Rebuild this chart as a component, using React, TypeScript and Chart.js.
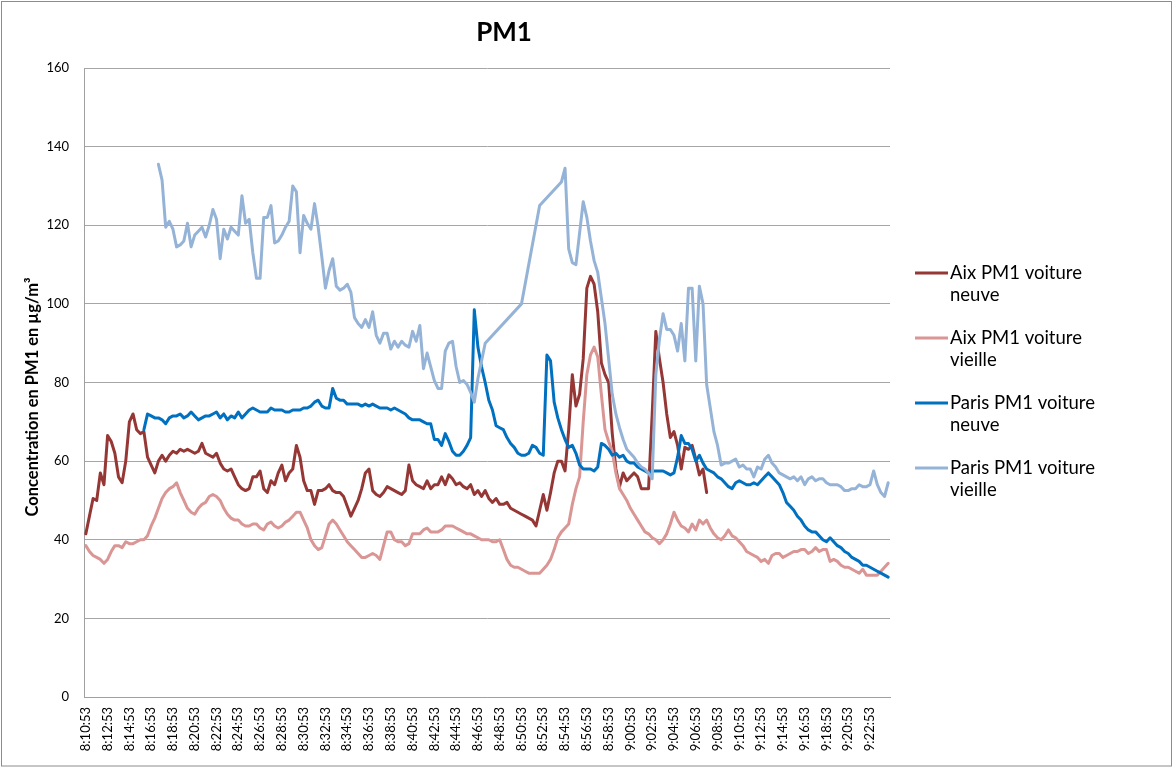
import { useEffect, useRef } from 'react';
import { Chart, registerables } from 'chart.js';

Chart.register(...registerables);

// ---------- data ----------
const START_TIME = '8:10:53';
const STEP_SECONDS = 20;
const CATEGORY_COUNT = 222;
const LABEL_EVERY = 6;

const chartTitle = 'PM1';
const yAxisTitle = 'Concentration en PM1 en µg/m³';
const yMin = 0;
const yMax = 160;
const yStep = 20;

const seriesLabels = [
  'Aix PM1 voiture neuve',
  'Aix PM1 voiture vieille',
  'Paris PM1 voiture neuve',
  'Paris PM1 voiture vieille',
];
const seriesColors = ['#953735', '#D99694', '#0070C0', '#95B3D7'];

const aixNeuveStart = 0;
const aixNeuve = [
  41.5, 46, 50.5, 50, 57, 54, 66.5, 65, 62, 56,
  54.5, 60, 70, 72, 68, 67, 67.5, 61, 59, 57,
  60, 61.5, 60, 61.5, 62.5, 62, 63, 62.5, 63, 62.5,
  62, 62.5, 64.5, 62, 61.5, 61, 62, 59.5, 58, 57.5,
  58, 56, 54, 53, 52.5, 53, 56, 56, 57.5, 53,
  52, 55, 54, 57, 59, 55, 57, 58, 64, 61,
  55, 52.5, 52.5, 49, 52.5, 52.5, 53, 54, 52.5,
  52, 52, 51, 48.5, 46, 48, 50, 53, 57, 58,
  52.5, 51.5, 51, 52, 53.5, 53, 52.5, 52, 51.5, 52.5,
  59, 55, 54, 53.5, 53, 55, 53, 54, 54, 56,
  54, 56.5, 55.5, 54, 54.5, 53.5, 53, 54, 51.5, 52.5,
  51, 52.5, 50.5, 49.5, 50.5, 49, 49, 49.5, 48, 47.5,
  47, 46.5, 46, 45.5, 45, 43.5, 47.5, 51.5, 47.5, 52,
  57, 60, 60, 57.5, 68, 82, 74, 77, 86, 104,
  107, 105, 98, 85, 82, 80, 67, 58, 53.5, 57,
  55, 56, 57, 56, 53, 53, 53, 72, 93, 86,
  80, 72, 66, 67.5, 64, 58, 63.5, 63, 64, 60.5,
  56.5, 58, 52,
];

const aixVieilleStart = 0;
const aixVieille = [
  38.5, 37, 36, 35.5, 35, 34, 35, 37, 38.5, 38.5,
  38, 39.5, 39, 39, 39.5, 40, 40, 41, 43.5, 45.5,
  48, 50.5, 52, 53, 53.5, 54.5, 52, 50, 48, 47,
  46.5, 48, 49, 49.5, 51, 51.5, 51, 50, 48, 46.5,
  45.5, 45, 45, 44, 43.5, 43.5, 44, 44, 43, 42.5,
  44, 44.5, 43.5, 43, 43.5, 44.5, 45, 46, 47, 47,
  45, 43, 40, 38.5, 37.5, 38, 41, 44, 45,
  44, 42.5, 41, 39.5, 38.5, 37.5, 36.5, 35.5, 35.5, 36,
  36.5, 36, 35, 38.5, 42, 42, 40, 39.5, 39.5, 38.5,
  39, 41.5, 41.5, 41.5, 42.5, 43, 42, 42, 42, 42.5,
  43.5, 43.5, 43.5, 43, 42.5, 42, 41.5, 41.5, 41, 40.5,
  40, 40, 40, 39.5, 39.5, 40, 37.5, 35, 33.5, 33,
  33, 32.5, 32, 31.5, 31.5, 31.5, 31.5, 32.5, 33.5, 35,
  37.5, 40.5, 42, 43, 44, 49, 53, 56, 70, 82,
  87, 89, 86.5, 77, 68, 65, 62.5, 57, 53, 51.5,
  50, 48, 46.5, 45, 43.5, 42, 41.5, 40.5, 40, 39,
  40, 41.5, 44, 47, 45, 43.5, 43, 42, 44, 42.5,
  45, 44, 45, 43, 41.5, 40.5, 40, 41, 42.5, 41,
  40.5, 39.5, 38.5, 37, 36.5, 36, 35.5, 34.5, 35,
  34, 36, 36.5, 36.5, 35.5, 36, 36.5, 37, 37, 37.5,
  37.5, 36.5, 37, 38, 37, 37.5, 37.5, 34.5, 35, 34.5,
  33.5, 33, 33, 32.5, 32, 31.5, 32.5, 31, 31, 31,
  31, 32, 33, 34,
];

const parisNeuveStart = 16;
const parisNeuve = [
  68, 72, 71.5, 71,
  71, 70.5, 69.5, 71, 71.5, 71.5, 72, 71, 71.5, 72.5,
  71.5, 70.5, 71, 71.5, 71.5, 72, 72.5, 71, 72, 70.5,
  71.5, 71, 72.5, 71, 72, 73, 73.5, 73, 72.5, 72.5,
  72.5, 73.5, 73, 73, 73, 72.5, 72.5, 73, 73, 73,
  73.5, 73.5, 74, 75, 75.5, 74, 73.5, 73.5, 78.5,
  76, 75.5, 75.5, 74.5, 74.5, 74.5, 74.5, 74, 74.5, 74,
  74.5, 74, 73.5, 73.5, 73.5, 73, 73.5, 73, 72.5, 72,
  71, 70.5, 70.5, 70.5, 70, 69.5, 69.5, 65.5, 65.5, 64,
  67, 65, 62.5, 61.5, 61.5, 62.5, 64, 66, 98.5, 89,
  84, 80, 75.5, 73, 69, 68.5, 68, 66, 64.5, 63.5,
  62, 61.5, 61.5, 62, 64, 63.5, 62, 61.5, 87, 85.5,
  75, 71, 68, 65.5, 63.5, 64, 62, 59, 58, 58,
  58, 57.5, 58.5, 64.5, 64, 63, 61.5, 62, 61, 61.5,
  60, 59.5, 59.5, 58.5, 58, 57.5, 57, 57.5, 57.5, 57.5,
  57.5, 57, 56.5, 57, 61, 66.5, 64.5, 64.5, 63, 60,
  61.5, 59.5, 58, 57.5, 57, 56, 55.5, 54.5, 53.5, 53,
  54.5, 55, 54.5, 54, 54, 54.5, 54, 55, 56,
  57, 56, 55, 54, 52, 49.5, 48.5, 47.5, 46, 45,
  43.5, 42.5, 42, 42, 41, 40, 39.5, 40.5, 39.5, 38.5,
  38, 37, 36.5, 35.5, 35, 34.5, 33.5, 33.5, 33, 32.5,
  32, 31.5, 31, 30.5,
];

const parisVieilleStart = 20;
const parisVieille = [
  135.5, 131.5, 119.5, 121, 119, 114.5, 115, 116, 120.5, 114.5,
  117.5, 118.5, 119.5, 117, 120, 124, 121.5, 111.5, 119, 116.5,
  119.5, 118.5, 117.5, 127.5, 120.5, 121.5, 113, 106.5, 106.5, 122,
  122, 125, 115.5, 116, 117.5, 119.5, 121, 130, 128.5, 113,
  122.5, 120.5, 119, 125.5, 119.5, 112, 104, 108.5, 111.5,
  104.5, 103.5, 104, 105, 103, 96.5, 95, 94, 96, 94,
  98, 92, 90, 92.5, 92.5, 88.5, 90.5, 89, 90.5, 89.5,
  89, 93, 90.5, 94.5, 83.5, 87.5, 84, 80.5, 78.5, 78.5,
  88, 90, 90.5, 84, 80, 80.5, 79.5, 77.5, 75, 81,
  85.5, 90, null, null, null, null, null, null, null, null,
  null, 100, null, null, null, null, 125, null, null, null,
  null, null, 131, 134.5, 114, 110.5, 110, 118, 126, 122,
  116, 111, 108, 101.5, 95, 86, 77, 72, 68.5, 65.5,
  63, 62, 61, 59.5, 58.5, 58, 57, 55.5, 82, 91,
  97.5, 93.5, 93.5, 92, 88, 95, 85.5, 104, 104, 85.5,
  104.5, 100, 79.5, 73.5, 67.5, 64, 59, 59.5, 59.5, 60,
  60.5, 58.5, 59, 58, 58, 56, 58.5, 58, 60.5,
  61.5, 59.5, 58.5, 57, 56.5, 56, 55.5, 56, 55, 56,
  54, 55.5, 56, 55, 55.5, 55.5, 54.5, 54, 54, 54,
  53.5, 52.5, 52.5, 53, 53, 54, 53.5, 53.5, 54, 57.5,
  54, 52, 51, 54.5,
];

// ---------- helpers ----------
function timeLabel(i: number): string {
  const [h, m, s] = START_TIME.split(':').map(Number);
  const t = h * 3600 + m * 60 + s + i * STEP_SECONDS;
  const hh = Math.floor(t / 3600);
  const mm = Math.floor((t % 3600) / 60);
  const ss = t % 60;
  return `${hh}:${String(mm).padStart(2, '0')}:${String(ss).padStart(2, '0')}`;
}

const categories: string[] = Array.from({ length: CATEGORY_COUNT }, (_, i) => timeLabel(i));

function place(start: number, values: (number | null)[]): (number | null)[] {
  const out: (number | null)[] = new Array(CATEGORY_COUNT).fill(null);
  values.forEach((v, i) => {
    if (start + i < CATEGORY_COUNT) out[start + i] = v;
  });
  return out;
}

const FONT = 'Lato, "Open Sans", sans-serif';

function wrapText(ctx: CanvasRenderingContext2D, text: string, maxWidth: number): string[] {
  const words = text.split(' ');
  const lines: string[] = [];
  let cur = '';
  for (const w of words) {
    const test = cur ? cur + ' ' + w : w;
    if (cur && ctx.measureText(test).width > maxWidth) {
      lines.push(cur);
      cur = w;
    } else {
      cur = test;
    }
  }
  if (cur) lines.push(cur);
  return lines;
}

const framePlugin = {
  id: 'frame',
  beforeDraw(chart: any) {
    const ctx = chart.ctx;
    ctx.save();
    ctx.fillStyle = '#ffffff';
    ctx.fillRect(0, 0, chart.width, chart.height);
    ctx.restore();
  },
  afterDraw(chart: any) {
    const ctx = chart.ctx;
    ctx.save();
    ctx.strokeStyle = '#8c8c8c';
    ctx.lineWidth = 1;
    ctx.strokeRect(1.5, 1.5, chart.width - 4, chart.height - 3.5);
    // chart title
    ctx.fillStyle = '#000';
    ctx.font = `bold 26px ${FONT}`;
    ctx.textAlign = 'center';
    ctx.textBaseline = 'alphabetic';
    ctx.fillText(chartTitle, 504, 41);
    // y axis title
    ctx.save();
    ctx.translate(38, 397);
    ctx.rotate(-Math.PI / 2);
    ctx.font = `bold 16.5px ${FONT}`;
    ctx.textAlign = 'center';
    ctx.textBaseline = 'alphabetic';
    ctx.fillText(yAxisTitle, 0, 0);
    ctx.restore();
    ctx.restore();
  },
};

const legendPlugin = {
  id: 'sideLegend',
  afterDraw(chart: any) {
    const ctx = chart.ctx;
    ctx.save();
    ctx.font = `18.5px ${FONT}`;
    ctx.textBaseline = 'middle';
    ctx.textAlign = 'left';
    chart.data.datasets.forEach((ds: any, k: number) => {
      const y = 273 + k * 65;
      ctx.strokeStyle = ds.borderColor;
      ctx.lineWidth = 3;
      ctx.beginPath();
      ctx.moveTo(915, y);
      ctx.lineTo(948, y);
      ctx.stroke();
      ctx.fillStyle = '#000';
      wrapText(ctx, ds.label, 165).forEach((ln, j) => {
        ctx.fillText(ln, 950, y + j * 22);
      });
    });
    ctx.restore();
  },
};

export default function App() {
  const canvasRef = useRef<HTMLCanvasElement | null>(null);

  useEffect(() => {
    document.body.style.margin = '0';
    const canvas = canvasRef.current;
    if (!canvas) return;
    const datasets = [
      place(aixNeuveStart, aixNeuve),
      place(aixVieilleStart, aixVieille),
      place(parisNeuveStart, parisNeuve),
      place(parisVieilleStart, parisVieille),
    ].map((data, k) => ({
      label: seriesLabels[k],
      data,
      borderColor: seriesColors[k],
      backgroundColor: seriesColors[k],
      borderWidth: 3,
      pointRadius: 0,
      tension: 0,
      spanGaps: true,
      borderJoinStyle: 'round' as const,
      borderCapStyle: 'round' as const,
      order: 4 - k,
    }));

    const chart = new Chart(canvas, {
      type: 'line',
      data: { labels: categories, datasets },
      plugins: [framePlugin, legendPlugin],
      options: {
        responsive: false,
        animation: false,
        devicePixelRatio: 1,
        layout: { padding: { left: 0, right: 284, top: 68, bottom: 0 } },
        plugins: {
          legend: { display: false },
          title: { display: false },
          tooltip: { enabled: false },
        },
        scales: {
          x: {
            type: 'category',
            offset: true,
            grid: { display: false, drawTicks: false },
            border: { display: true, color: '#a0a0a0', width: 1 },
            ticks: {
              autoSkip: false,
              maxRotation: 90,
              minRotation: 90,
              padding: 10,
              color: '#000',
              font: { family: FONT, size: 13 },
              callback: (_v: any, i: number) => (i % LABEL_EVERY === 0 ? categories[i] : ''),
            },
            afterFit: (s: any) => {
              s.height = 71;
            },
          },
          y: {
            min: yMin,
            max: yMax,
            ticks: {
              stepSize: yStep,
              padding: 15,
              color: '#000',
              font: { family: FONT, size: 13 },
            },
            grid: { color: '#a6a6a6', drawTicks: false, lineWidth: 1 },
            border: { display: true, color: '#a0a0a0', width: 1 },
            title: { display: false },
            afterFit: (s: any) => {
              s.width = 84;
            },
          },
        },
      },
    });
    return () => chart.destroy();
  }, []);

  return (
    <div style={{ width: 1174, height: 768, position: 'relative' }}>
      <canvas ref={canvasRef} width={1174} height={768} style={{ display: 'block' }} />
    </div>
  );
}
